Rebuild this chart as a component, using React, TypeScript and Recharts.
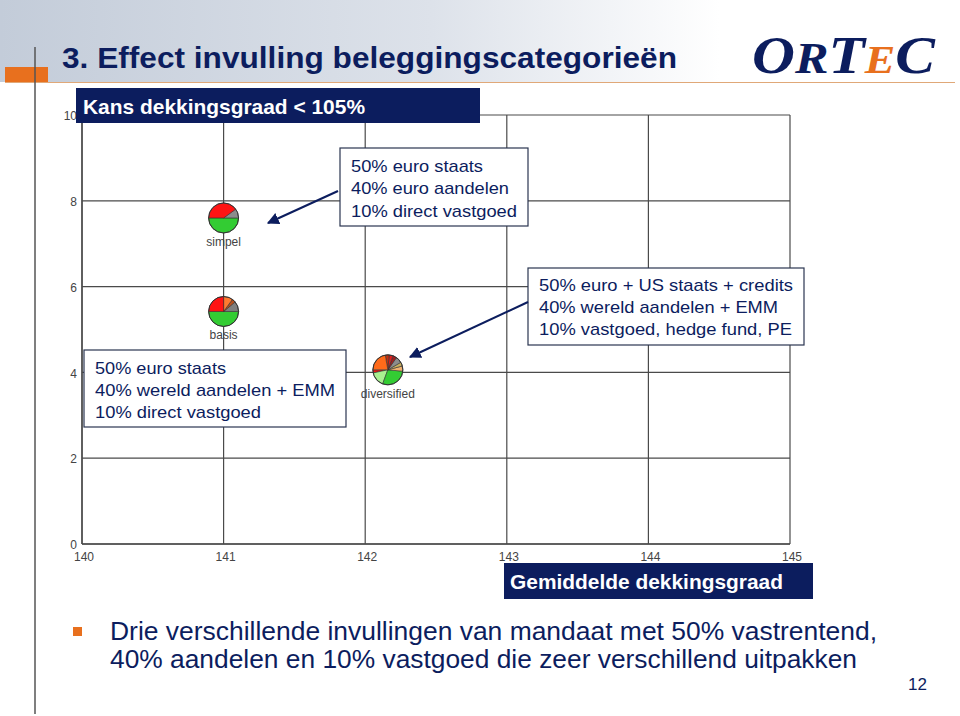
import React from 'react';
import { ScatterChart, Scatter, XAxis, YAxis, CartesianGrid } from 'recharts';

// ---- data ----
const portfolios = ['simpel', 'basis', 'diversified'];
const meanFundingRatio = [141.0, 141.0, 142.16];
const probUnder105 = [7.6, 5.42, 4.06];
// pie-glyph shares (%), drawn counter-clockwise starting at 9 o'clock
const simpelShares = [50, 10, 40];
const basisShares = [50, 11, 4, 10, 25];
const diversifiedShares = [3.3, 16.1, 29.2, 5.6, 4.2, 6.9, 4.2, 4.2, 4.2, 22.2];
const xTicks = [140, 141, 142, 143, 144, 145];
const yTicks = [0, 2, 4, 6, 8, 10];

// ---- styles ----
const SLICE_COLORS: string[][] = [
  ['#33cc33', '#8c8c8c', '#ff1414'],
  ['#33cc33', '#7f7f7f', '#b8501e', '#ff7a30', '#ff1414'],
  ['#ff1414', '#a8f090', '#33cc33', '#f0b070', '#c8b060', '#8c8c8c', '#a02020', '#e02020', '#c03010', '#ff6a1a'],
];
const sharesList = [simpelShares, basisShares, diversifiedShares];
const data = portfolios.map((name, i) => ({
  name,
  x: meanFundingRatio[i],
  y: probUnder105[i],
  shares: sharesList[i],
  idx: i,
}));

const NAVY = '#0c1d5e';
const ORANGE = '#e8701e';
const FONT = "'Liberation Sans', Arial, Helvetica, sans-serif";

const PieGlyph = (props: any) => {
  const { cx, cy, payload } = props;
  if (cx == null || cy == null) return null;
  const r = 15;
  const shares: number[] = payload.shares;
  const colors = SLICE_COLORS[payload.idx];
  const total = shares.reduce((a, b) => a + b, 0);
  let a0 = Math.PI; // start at 9 o'clock
  const paths = shares.map((s, i) => {
    const span = (s / total) * Math.PI * 2;
    const a1 = a0 + span;
    const x0 = cx + r * Math.cos(a0);
    const y0 = cy - r * Math.sin(a0);
    const x1 = cx + r * Math.cos(a1);
    const y1 = cy - r * Math.sin(a1);
    const large = span > Math.PI ? 1 : 0;
    const d = `M${cx},${cy} L${x0},${y0} A${r},${r} 0 ${large} 0 ${x1},${y1} Z`;
    a0 = a1;
    return <path key={i} d={d} fill={colors[i % colors.length]} stroke="#333" strokeWidth={0.6} />;
  });
  return (
    <g>
      {paths}
      <circle cx={cx} cy={cy} r={r} fill="none" stroke="#333" strokeWidth={1} />
      <text x={cx} y={cy + r + 13} textAnchor="middle" fontFamily={FONT} fontSize={12} fill="#444">
        {payload.name}
      </text>
    </g>
  );
};

const Box = ({ x, y, w, h, lines }: { x: number; y: number; w: number; h: number; lines: { t: string; bl: number; len: number }[] }) => (
  <g>
    <rect x={x} y={y} width={w} height={h} fill="#fff" stroke="#2a3550" strokeWidth={1.2} />
    {lines.map((l, i) => (
      <text key={i} x={x + 11} y={l.bl} fontFamily={FONT} fontSize={17} fill={NAVY} textLength={l.len} lengthAdjust="spacingAndGlyphs">
        {l.t}
      </text>
    ))}
  </g>
);

export default function App() {
  return (
    <div style={{ position: 'absolute', left: 0, top: 0, width: 960, height: 716, background: '#fff', overflow: 'hidden' }}>
      {/* background slide decoration */}
      <svg width={960} height={716} style={{ position: 'absolute', left: 0, top: 0 }}>
        <defs>
          <linearGradient id="hdr" x1="0" y1="0" x2="1" y2="0">
            <stop offset="0" stopColor="#c3ccd9" />
            <stop offset="0.45" stopColor="#dde2ea" />
            <stop offset="0.75" stopColor="#ffffff" />
          </linearGradient>
        </defs>
        <rect x={0} y={0} width={960} height={82} fill="url(#hdr)" />
        <rect x={5} y={67} width={43} height={15} fill={ORANGE} />
        <line x1={5} y1={82.5} x2={955} y2={82.5} stroke="#e0a878" strokeWidth={1} />
        <line x1={35} y1={47} x2={35} y2={714} stroke="#555" strokeWidth={1.5} />
      </svg>

      <div style={{ position: 'absolute', left: 0, top: 0 }}>
        <ScatterChart width={960} height={716} margin={{ top: 115, right: 170, bottom: 142, left: 52 }}>
          <CartesianGrid stroke="#4a4a4a" strokeWidth={1.2} />
          <XAxis
            type="number"
            dataKey="x"
            domain={[140, 145]}
            ticks={xTicks}
            height={30}
            tickLine={false}
            tickSize={2}
            tickMargin={6}
            axisLine={{ stroke: '#4a4a4a', strokeWidth: 1.4 }}
            tick={{ fontSize: 12, fill: '#444', fontFamily: FONT, dx: 2 }}
          />
          <YAxis
            type="number"
            dataKey="y"
            domain={[0, 10]}
            ticks={yTicks}
            width={30}
            tickLine={false}
            tickSize={2}
            tickMargin={3}
            axisLine={{ stroke: '#4a4a4a', strokeWidth: 1.4 }}
            tick={{ fontSize: 12, fill: '#444', fontFamily: FONT, dy: 1 }}
          />
          <Scatter data={data} shape={PieGlyph} isAnimationActive={false} />
        </ScatterChart>
      </div>

      {/* overlay: titles, annotations */}
      <svg width={960} height={716} style={{ position: 'absolute', left: 0, top: 0, pointerEvents: 'none' }}>
        <defs>
          <marker id="arr" viewBox="0 0 10 10" refX="9" refY="5" markerWidth="6" markerHeight="6" orient="auto">
            <path d="M0,0 L10,5 L0,10 Z" fill={NAVY} />
          </marker>
        </defs>
        <text x={62} y={68} fontFamily={FONT} fontWeight="bold" fontSize={30} fill={NAVY} textLength={615} lengthAdjust="spacingAndGlyphs">
          3. Effect invulling beleggingscategorieën
        </text>
        <text x={752} y={73} fontFamily="'Liberation Serif', 'DejaVu Serif', serif" fontWeight="bold" fontStyle="italic" fill={NAVY} textLength={183} lengthAdjust="spacingAndGlyphs">
          <tspan fontSize={52}>O</tspan>
          <tspan fontSize={44}>R</tspan>
          <tspan fontSize={52}>T</tspan>
          <tspan fontSize={40} fill={ORANGE}>E</tspan>
          <tspan fontSize={52}>C</tspan>
        </text>

        <rect x={76} y={88} width={404} height={35} fill={NAVY} />
        <text x={83} y={114} fontFamily={FONT} fontWeight="bold" fontSize={21} fill="#fff" textLength={282} lengthAdjust="spacingAndGlyphs">
          Kans dekkingsgraad &lt; 105%
        </text>

        <rect x={504} y={563} width={309} height={36} fill={NAVY} />
        <text x={510} y={589} fontFamily={FONT} fontWeight="bold" fontSize={21} fill="#fff" textLength={273} lengthAdjust="spacingAndGlyphs">
          Gemiddelde dekkingsgraad
        </text>

        <Box
          x={340}
          y={148}
          w={188}
          h={78}
          lines={[
            { t: '50% euro staats', bl: 172, len: 132 },
            { t: '40% euro aandelen', bl: 194, len: 158 },
            { t: '10% direct vastgoed', bl: 217, len: 166 },
          ]}
        />
        <Box
          x={528}
          y={268}
          w={276}
          h={77}
          lines={[
            { t: '50% euro + US staats + credits', bl: 291, len: 254 },
            { t: '40% wereld aandelen + EMM', bl: 313, len: 239 },
            { t: '10% vastgoed, hedge fund, PE', bl: 335, len: 253 },
          ]}
        />
        <Box
          x={84}
          y={350}
          w={262}
          h={77}
          lines={[
            { t: '50% euro staats', bl: 374, len: 131 },
            { t: '40% wereld aandelen + EMM', bl: 396, len: 240 },
            { t: '10% direct vastgoed', bl: 418, len: 166 },
          ]}
        />

        <line x1={338} y1={191} x2={268} y2={223} stroke={NAVY} strokeWidth={2} markerEnd="url(#arr)" />
        <line x1={528} y1={302} x2={410} y2={357} stroke={NAVY} strokeWidth={2} markerEnd="url(#arr)" />

        <rect x={73} y={627} width={9} height={9} fill={ORANGE} />
        <text x={110} y={640} fontFamily={FONT} fontSize={25} fill={NAVY} textLength={767} lengthAdjust="spacingAndGlyphs">
          Drie verschillende invullingen van mandaat met 50% vastrentend,
        </text>
        <text x={110} y={668} fontFamily={FONT} fontSize={25} fill={NAVY} textLength={747} lengthAdjust="spacingAndGlyphs">
          40% aandelen en 10% vastgoed die zeer verschillend uitpakken
        </text>
        <text x={908} y={690} fontFamily={FONT} fontSize={17} fill={NAVY}>
          12
        </text>
      </svg>
    </div>
  );
}
